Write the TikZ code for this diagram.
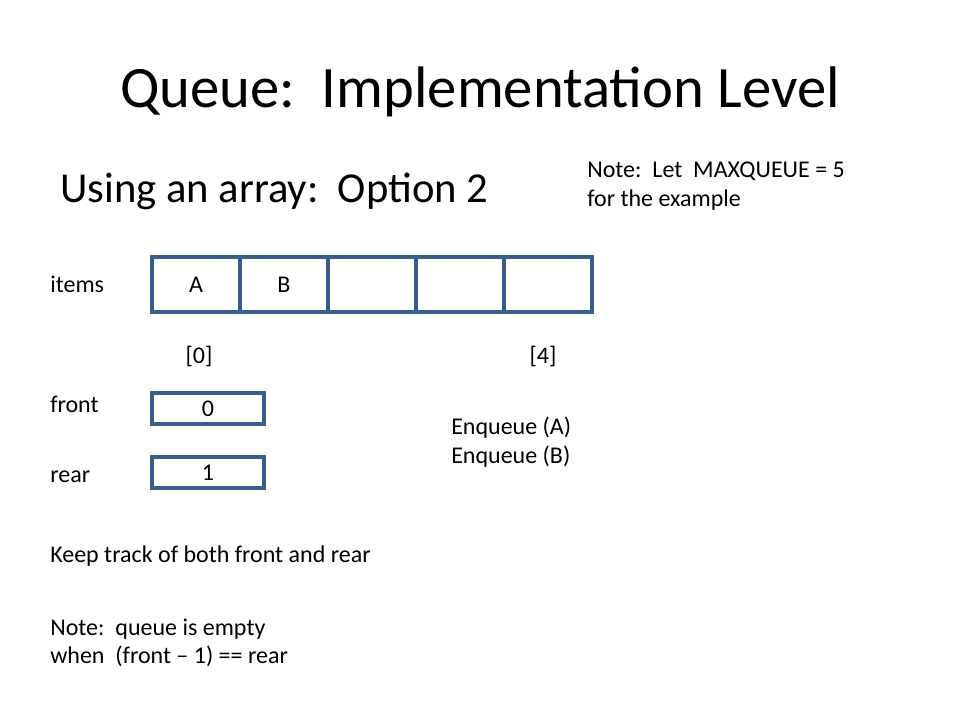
\documentclass[tikz,border=0pt]{standalone}
\usepackage{fontspec}
\setmainfont{Carlito}
\definecolor{boxblue}{HTML}{3A5F8E}
\begin{document}
\begin{tikzpicture}[x=0.75pt,y=-0.75pt,
  txt/.style={font=\fontsize{18}{21.6}\selectfont},
  cell/.style={txt,draw=boxblue,line width=2.4pt,minimum width=88*0.75pt,minimum height=55*0.75pt,inner sep=0pt,outer sep=0pt},
  small/.style={txt,draw=boxblue,line width=2.4pt,minimum width=112*0.75pt,minimum height=31*0.75pt,inner sep=0pt},
  lbl/.style={txt,anchor=west,inner sep=0pt},
  lblc/.style={txt,inner sep=0pt}]
\useasboundingbox[fill=white] (0,0) rectangle (960,720);
\node[inner sep=0pt,font=\fontsize{44}{52}\selectfont] (title) at (480,92) {Queue:\ \ Implementation Level};
\node[anchor=west,inner sep=0pt,font=\fontsize{32}{38}\selectfont] (sub) at (60,191) {Using an array:\ \ Option 2};
\node[lbl,align=left] (note) at (587,186) {Note:\ \ Let\ \ MAXQUEUE = 5\\for the example};
\node[lbl] (items) at (50,284) {items};
\node[cell] (c0) at (196,284.5) {A};
\node[cell] (c1) at (284,284.5) {B};
\node[cell] (c2) at (372,284.5) {};
\node[cell] (c3) at (460,284.5) {};
\node[cell] (c4) at (548,284.5) {};
\node[lblc] (i0) at (199,356) {[0]};
\node[lblc] (i4) at (543,356) {[4]};
\node[lbl] (front) at (50,404) {front};
\node[small] (fbox) at (208,408.5) {0};
\node[lbl] (rear) at (50,477) {rear};
\node[small] (rbox) at (208,472.5) {1};
\node[lbl,align=left] (enq) at (451,442) {Enqueue (A)\\Enqueue (B)};
\node[lbl] (keep) at (50,556) {Keep track of both front and rear};
\node[lbl,align=left] (empty) at (50,643) {Note:\ \ queue is empty\\when\ \ (front -- 1) == rear};
\end{tikzpicture}
\end{document}
